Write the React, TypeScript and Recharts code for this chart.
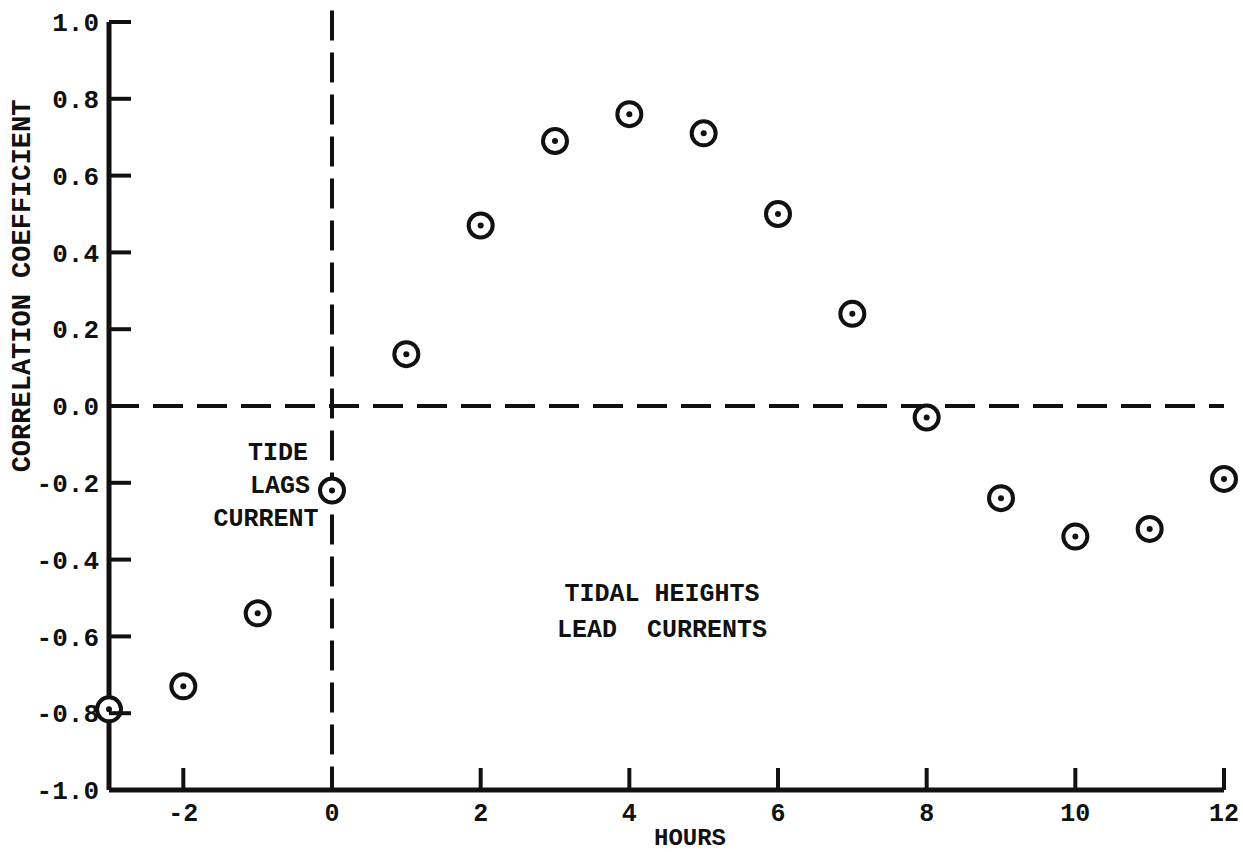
import { ScatterChart, Scatter, XAxis, YAxis, ReferenceLine, Label } from "recharts";

const hours = [-3, -2, -1, 0, 1, 2, 3, 4, 5, 6, 7, 8, 9, 10, 11, 12];
const correlation = [-0.79, -0.73, -0.54, -0.22, 0.135, 0.47, 0.69, 0.76, 0.71, 0.5, 0.24, -0.03, -0.24, -0.34, -0.32, -0.19];
const xTicks = [-2, 0, 2, 4, 6, 8, 10, 12];
const yTicks = [-1, -0.8, -0.6, -0.4, -0.2, 0, 0.2, 0.4, 0.6, 0.8, 1];

const FONT = '"Courier New", "Liberation Mono", monospace';
const INK = "#111";

const data = hours.map((h, i) => ({ h, r: correlation[i] }));

function XTick({ x, y, payload }: any) {
  return (
    <g>
      <line x1={x} y1={y} x2={x} y2={y - 22} stroke={INK} strokeWidth={4} />
      <text x={x} y={y + 31} textAnchor="middle" fontFamily={FONT} fontWeight="bold" fontSize={25} fill={INK}>
        {payload.value}
      </text>
    </g>
  );
}

function YTick({ x, y, payload }: any) {
  return (
    <g>
      <line x1={x} y1={y} x2={x + 22} y2={y} stroke={INK} strokeWidth={4} />
      <text x={x - 10} y={y} dy="0.35em" textAnchor="end" fontFamily={FONT} fontWeight="bold" fontSize={26} fill={INK}>
        {payload.value.toFixed(1)}
      </text>
    </g>
  );
}

function Marker({ cx, cy }: any) {
  return (
    <g>
      <circle cx={cx} cy={cy} r={12} fill="#fff" stroke={INK} strokeWidth={4} />
      <circle cx={cx} cy={cy} r={3} fill={INK} />
    </g>
  );
}

const textStyle = { fontFamily: FONT, fontWeight: "bold" as const, fontSize: 25, fill: INK };

export default function App() {
  return (
    <div style={{ position: "absolute", left: 0, top: 0, background: "#fff" }}>
      <ScatterChart width={1243} height={852} margin={{ top: 22, right: 19, bottom: 0, left: 0 }}>
        <XAxis
          type="number"
          dataKey="h"
          domain={[-3, 12]}
          ticks={xTicks}
          interval={0}
          tickSize={0}
          tickMargin={0}
          tickLine={false}
          tick={<XTick />}
          axisLine={{ stroke: INK, strokeWidth: 5 }}
          height={62}
        />
        <YAxis
          type="number"
          dataKey="r"
          domain={[-1, 1]}
          ticks={yTicks}
          interval={0}
          tickSize={0}
          tickMargin={0}
          tickLine={false}
          tick={<YTick />}
          axisLine={{ stroke: INK, strokeWidth: 5 }}
          width={109}
        >
          <Label
            content={() => (
              <text x={21} y={286} transform="rotate(-90 21 286)" textAnchor="middle" dy="0.35em" {...textStyle} fontSize={27}>
                CORRELATION COEFFICIENT
              </text>
            )}
          />
        </YAxis>
        <ReferenceLine y={0} stroke={INK} strokeWidth={4} strokeDasharray="30 14" />
        <ReferenceLine
          segment={[{ x: 0, y: 1.03 }, { x: 0, y: -1 }]}
          ifOverflow="visible"
          stroke={INK}
          strokeWidth={4}
          strokeDasharray="30 12"
        />
        <Scatter data={data} shape={<Marker />} isAnimationActive={false} />
        <text x={278} y={460} textAnchor="middle" {...textStyle}>TIDE</text>
        <text x={280} y={493} textAnchor="middle" {...textStyle}>LAGS</text>
        <text x={266} y={526} textAnchor="middle" {...textStyle}>CURRENT</text>
        <text x={662} y={601} textAnchor="middle" {...textStyle}>TIDAL HEIGHTS</text>
        <text x={662} y={637} textAnchor="middle" {...textStyle} style={{ whiteSpace: "pre" }}>{"LEAD  CURRENTS"}</text>
        <text x={690} y={845} textAnchor="middle" {...textStyle} fontSize={24}>HOURS</text>
      </ScatterChart>
    </div>
  );
}
